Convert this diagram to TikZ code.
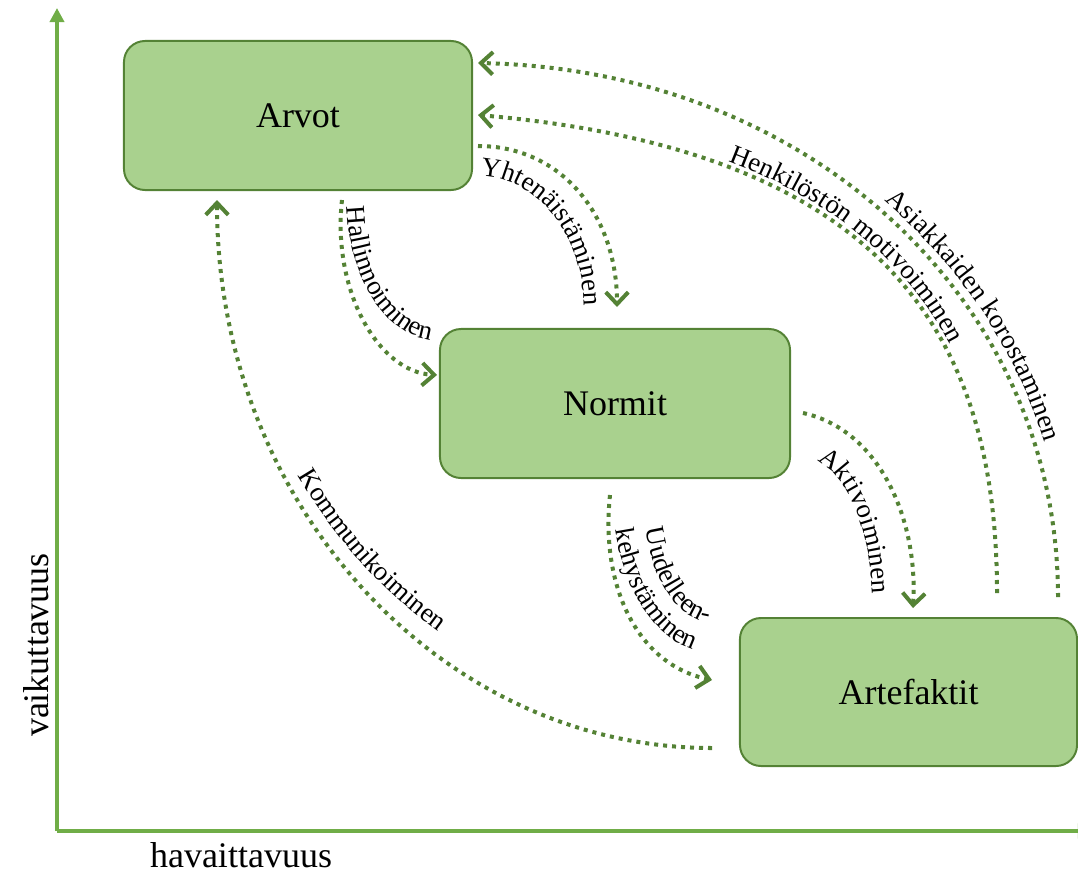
\documentclass[tikz,border=0pt]{standalone}
\usepackage{fontspec}
\setmainfont{Liberation Serif}
\usetikzlibrary{arrows.meta,decorations.text}
\definecolor{boxfill}{RGB}{169,209,142}
\definecolor{boxline}{RGB}{84,130,53}
\definecolor{flowgreen}{RGB}{84,130,53}
\definecolor{axisgreen}{RGB}{112,173,71}
\newcommand\boxfont{\fontsize{25.6}{30}\selectfont}
\newcommand\flowfont{\fontsize{19.2}{23}\selectfont}

\begin{document}
\begin{tikzpicture}[x=0.025cm,y=0.025cm,
  stagebox/.style={draw=boxline, fill=boxfill, line width=1.4pt,
    rounded corners=15pt, font=\boxfont, inner sep=0pt},
  flowarrow/.style={draw=flowgreen, line width=2.85pt,
    dash pattern=on 2.85pt off 3.55pt,
    -{Straight Barb[length=8.5pt,width=16pt]}},
  flowtext/.style={decorate, decoration={text along path,
    text={|\flowfont|#1}, text align=center}},
  axisline/.style={draw=axisgreen, line width=3pt,
    -{Triangle[length=10pt,width=10pt]}},
]
\useasboundingbox (0,0) rectangle (1078,-874);
\clip (0,0) rectangle (1078,-874);

% axes
\coordinate (origin) at (57,-831);
\coordinate (ytip) at (57,-8);
\coordinate (xtip) at (1092,-831);
\draw[axisline] (origin) -- (ytip);
\draw[axisline] (origin) -- (xtip);
\node[font=\boxfont, rotate=90] (vlabel) at (36,-645) {vaikuttavuus};
\node[font=\boxfont] (hlabel) at (241,-855) {havaittavuus};

% the three levels
\node[stagebox, minimum width=8.7cm, minimum height=3.725cm] (arvot) at (298,-115.5) {Arvot};
\node[stagebox, minimum width=8.75cm, minimum height=3.725cm] (normit) at (615,-403.5) {Normit};
\node[stagebox, minimum width=8.425cm, minimum height=3.7cm] (artefaktit) at (908.5,-692) {Artefaktit};

% end points of the flows
\coordinate (asiakS) at (1058,-597);  \coordinate (asiakE) at (478,-63);
\coordinate (henkS)  at (997,-593);   \coordinate (henkE)  at (478,-115);
\coordinate (yhtS)   at (478,-146);   \coordinate (yhtE)   at (617,-307);
\coordinate (hallS)  at (342,-200);   \coordinate (hallE)  at (437,-375);
\coordinate (aktS)   at (803,-413);   \coordinate (aktE)   at (913,-608);
\coordinate (uudS)   at (610,-495);   \coordinate (uudE)   at (712,-680);
\coordinate (kommS)  at (712,-748);   \coordinate (kommE)  at (217,-200);

% flows
\draw[flowarrow] (asiakS) .. controls (1058,-300) and (810,-70) .. (asiakE);
\draw[flowarrow] (henkS) .. controls (997,-330) and (880,-150) .. (henkE);
\draw[flowarrow] (yhtS) .. controls (561,-146) and (617,-215) .. (yhtE);
\draw[flowarrow] (hallS) .. controls (332,-290) and (378,-372) .. (hallE);
\draw[flowarrow] (aktS) .. controls (880,-430) and (918,-520) .. (aktE);
\draw[flowarrow] (uudS) .. controls (600,-590) and (640,-665) .. (uudE);
\draw[flowarrow] (kommS) .. controls (439,-748) and (217,-502) .. (kommE);

% labels set along the flows
\path[decorate, decoration={text along path, text={|\flowfont|Asiakkaiden korostaminen},
    text align={right, right indent=3.85cm}, raise=7pt}]
  (asiakE) .. controls (810,-70) and (1058,-300) .. (asiakS);
\path[decorate, decoration={text along path, text={|\flowfont|Henkilöstön motivoiminen},
    text align={right, right indent=6.35cm}, raise=4pt}]
  (henkE) .. controls (880,-150) and (997,-330) .. (henkS);
\path[flowtext=Yhtenäistäminen] (478,-307) ++(92:2.65cm and 3.275cm)
  arc[start angle=92, end angle=-2, x radius=2.65cm, y radius=3.275cm];
\path[flowtext=Hallinnoiminen] (437,-200) ++(180:2.25cm and 3.5cm)
  arc[start angle=180, end angle=270, x radius=2.25cm, y radius=3.5cm];
\path[flowtext=Aktivoiminen] (803,-608) ++(90:1.75cm and 3.75cm)
  arc[start angle=90, end angle=0, x radius=1.75cm, y radius=3.75cm];
\path[decorate, decoration={text along path, text={|\flowfont|kehystäminen},
    text align={left indent=0.875cm}}]
  (712,-495) ++(180:2.475cm and 3.925cm)
  arc[start angle=180, end angle=270, x radius=2.475cm, y radius=3.925cm];
\path[decorate, decoration={text along path, text={|\flowfont|Uudelleen-},
    text align={left indent=0.85cm}}]
  (712,-495) ++(180:1.725cm and 3.175cm)
  arc[start angle=180, end angle=270, x radius=1.725cm, y radius=3.175cm];
\path[flowtext=Kommunikoiminen] (712,-200) ++(-151:12.2cm and 13.025cm)
  arc[start angle=-151, end angle=-121, x radius=12.2cm, y radius=13.025cm];
\end{tikzpicture}
\end{document}
